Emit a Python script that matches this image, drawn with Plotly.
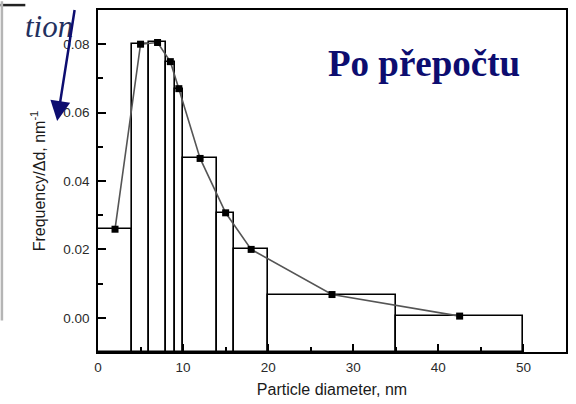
import plotly.graph_objects as go

# ---- data ----
bin_edges = [0, 4, 6, 8, 9, 10, 14, 16, 20, 35, 50]
frequency = [0.0259, 0.0800, 0.0805, 0.0749, 0.0670, 0.0466, 0.0307, 0.0200, 0.0068, 0.0005]
x_ticks = [0, 10, 20, 30, 40, 50]
y_ticks = [0.00, 0.02, 0.04, 0.06, 0.08]
x_range = [0, 55]
y_range = [-0.01, 0.09]

centers = [(a + b) / 2 for a, b in zip(bin_edges[:-1], bin_edges[1:])]
widths = [b - a for a, b in zip(bin_edges[:-1], bin_edges[1:])]
base = y_range[0]
heights = [v - base for v in frequency]

fig = go.Figure()
fig.add_trace(go.Bar(
    x=centers, y=heights, base=[base] * len(centers), width=widths,
    marker=dict(color="white", line=dict(color="black", width=1.6)),
    hoverinfo="skip",
))
fig.add_trace(go.Scatter(
    x=centers, y=frequency, mode="lines+markers",
    line=dict(color="#555555", width=1.6),
    marker=dict(symbol="square", size=7, color="black"),
))

L, R, T, B = 98, 8, 9, 47
W, H = 576, 404
pw, ph = W - L - R, H - T - B

def px(x):
    return (x - L) / pw

def py(y):
    return (H - B - y) / ph

tickfont = dict(family="Liberation Sans, Arial, sans-serif", size=13.5, color="#2a2a2a")
fig.update_layout(
    width=W, height=H,
    margin=dict(l=L, r=R, t=T, b=B, pad=0),
    paper_bgcolor="white", plot_bgcolor="white",
    showlegend=False, bargap=0,
    xaxis=dict(
        range=x_range, tickvals=x_ticks, ticks="inside", ticklen=8, tickwidth=1.5,
        tickcolor="black", showline=True, linecolor="black", linewidth=1.6, mirror=True,
        showgrid=False, zeroline=False, tickfont=tickfont, ticklabelstandoff=2,
        minor=dict(dtick=5, tick0=0, ticks="inside", ticklen=5, tickwidth=1.5, tickcolor="black", showgrid=False),
        title=dict(text="Particle diameter, nm", standoff=10,
                   font=dict(family="Liberation Sans, Arial, sans-serif", size=16, color="#1a1a1a")),
    ),
    yaxis=dict(
        range=y_range, tickvals=y_ticks, tickformat=".2f", ticks="inside", ticklen=8, tickwidth=1.5,
        tickcolor="black", showline=True, linecolor="black", linewidth=1.6, mirror=True,
        showgrid=False, zeroline=False, tickfont=tickfont, ticklabelstandoff=4,
        minor=dict(dtick=0.01, tick0=0, ticks="inside", ticklen=5, tickwidth=1.5, tickcolor="black", showgrid=False),
        title=dict(text="Frequency/Δd, nm<sup>-1</sup>", standoff=14,
                   font=dict(family="Liberation Sans, Arial, sans-serif", size=16, color="#1a1a1a")),
    ),
)

fig.add_annotation(
    xref="paper", yref="paper", x=px(425), y=py(63), xanchor="center", yanchor="middle",
    text="<b>Po přepočtu</b>", showarrow=False,
    font=dict(family="Liberation Serif, Times New Roman, serif", size=37, color="#0d0d70"),
)
fig.add_annotation(
    xref="paper", yref="paper", x=px(23), y=py(26), xanchor="left", yanchor="middle",
    text="<i>tion</i>", showarrow=False,
    font=dict(family="Liberation Serif, Times New Roman, serif", size=31, color="#22305e"),
)
fig.add_annotation(
    xref="paper", yref="paper", x=px(57), y=py(122), text=" ",
    showarrow=True, ax=19, ay=-124, arrowhead=2, arrowsize=1.6, arrowwidth=2.5,
    arrowcolor="#0d0d70",
)
fig.add_shape(type="line", xref="paper", yref="paper",
              x0=px(0), x1=px(25), y0=py(4), y1=py(4), line=dict(color="#222222", width=2.5))
fig.add_shape(type="line", xref="paper", yref="paper",
              x0=px(1.5), x1=px(1.5), y0=py(0), y1=py(325), line=dict(color="#b5b5b5", width=2.5))

fig.write_html("out.html")
